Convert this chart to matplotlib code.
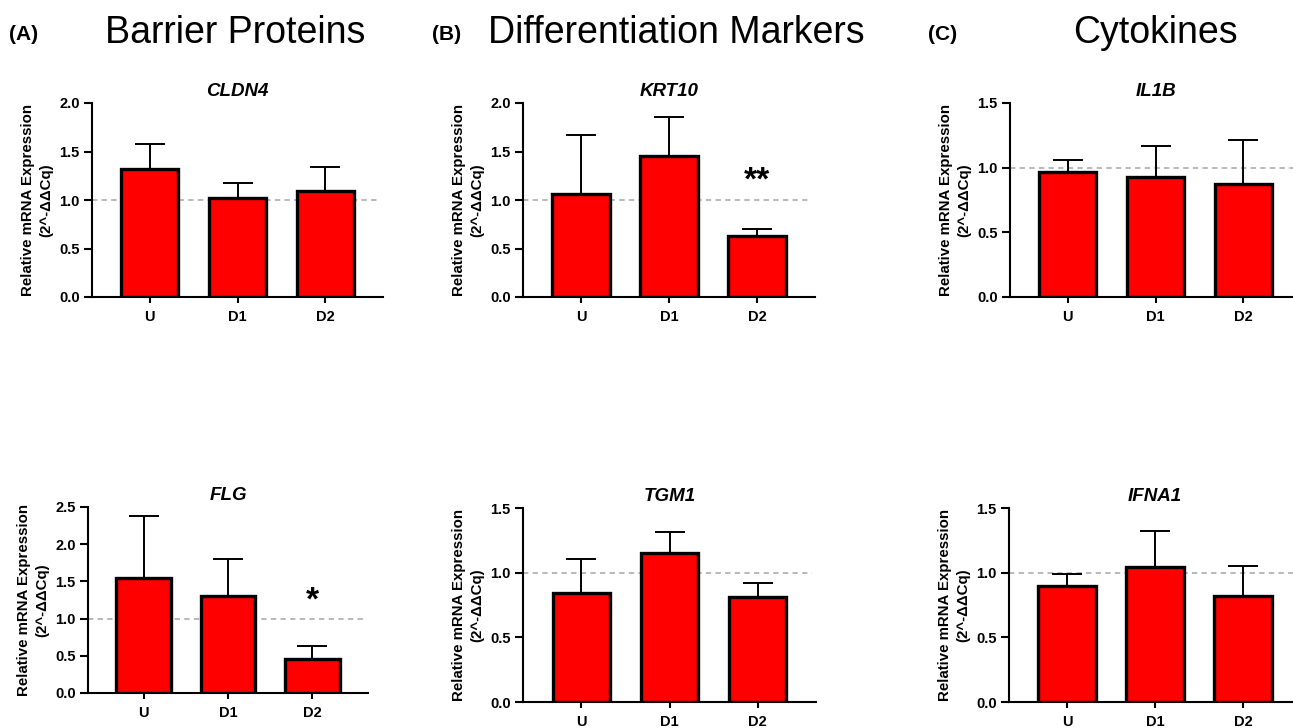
import matplotlib
matplotlib.use("Agg")
import matplotlib.pyplot as plt
from matplotlib.ticker import MultipleLocator, FormatStrFormatter

plt.rcParams["font.family"] = ["Liberation Sans", "DejaVu Sans"]

groups = ["U", "D1", "D2"]

# means and upper error (SD)
cldn4_mean = [1.32, 1.02, 1.09]
cldn4_err = [0.26, 0.16, 0.25]
krt10_mean = [1.06, 1.455, 0.63]
krt10_err = [0.615, 0.405, 0.07]
il1b_mean = [0.967, 0.926, 0.871]
il1b_err = [0.091, 0.238, 0.342]
flg_mean = [1.54, 1.31, 0.457]
flg_err = [0.835, 0.49, 0.17]
tgm1_mean = [0.845, 1.152, 0.81]
tgm1_err = [0.261, 0.16, 0.11]
ifna1_mean = [0.90, 1.046, 0.82]
ifna1_err = [0.09, 0.276, 0.234]

genes = ["CLDN4", "KRT10", "IL1B", "FLG", "TGM1", "IFNA1"]
ymax = [2.0, 2.0, 1.5, 2.5, 1.5, 1.5]
stars = {"KRT10": (2, "**", 1.11), "FLG": (2, "*", 1.115)}

section_titles = ["Barrier Proteins", "Differentiation Markers", "Cytokines"]
section_letters = ["(A)", "(B)", "(C)"]

W, H = 1293, 728
fig = plt.figure(figsize=(W / 100, H / 100), dpi=100)

# axes boxes in pixels: left, right, top, bottom
boxes = [
    (92, 383, 103, 297),
    (523, 815, 103, 297),
    (1010, 1301, 103, 297),
    (88, 368, 507, 693),
    (523, 816, 508, 702),
    (1009, 1301, 508, 702),
]

data = {
    "CLDN4": (cldn4_mean, cldn4_err),
    "KRT10": (krt10_mean, krt10_err),
    "IL1B": (il1b_mean, il1b_err),
    "FLG": (flg_mean, flg_err),
    "TGM1": (tgm1_mean, tgm1_err),
    "IFNA1": (ifna1_mean, ifna1_err),
}

x = range(len(groups))
for gene, top, (l, r, t, b) in zip(genes, ymax, boxes):
    ax = fig.add_axes([l / W, 1 - b / H, (r - l) / W, (b - t) / H])
    mean, err = data[gene]
    ax.axhline(1.0, xmin=0, xmax=0.985, color="#a6a6a6", lw=1.1,
               dashes=(3.5, 2.8), zorder=1)
    ax.errorbar(x, mean, yerr=[[0] * len(err), err], fmt="none",
                ecolor="black", elinewidth=1.4, capsize=10.5,
                capthick=1.4, zorder=2)
    ax.bar(x, mean, width=0.65, color="#ff0000", edgecolor="black",
           linewidth=2.4, zorder=3)
    if gene in stars:
        i, s, y = stars[gene]
        ax.text(i, y, s, ha="center", va="baseline", fontsize=24,
                fontweight="bold", zorder=4)

    ax.set_xlim(-0.66, 2.66)
    ax.set_ylim(0, top)
    ax.yaxis.set_major_locator(MultipleLocator(0.5))
    ax.yaxis.set_major_formatter(FormatStrFormatter("%.1f"))
    ax.set_xticks(list(x))
    ax.set_xticklabels(groups)
    for sp in ["top", "right"]:
        ax.spines[sp].set_visible(False)
    for sp in ["left", "bottom"]:
        ax.spines[sp].set_linewidth(1.5)
    ax.tick_params(axis="y", length=5.8, width=1.5, pad=3, labelsize=10.5)
    ax.tick_params(axis="x", length=4.3, width=1.5, pad=5, labelsize=10.5)
    for lab in ax.get_xticklabels() + ax.get_yticklabels():
        lab.set_fontweight("bold")

    ax.set_title(gene, fontsize=13.5, fontweight="bold", style="italic", pad=5)
    ax.set_ylabel("Relative mRNA Expression\n(2^-ΔΔCq)", fontsize=10.8,
                  fontweight="bold", va="center", linespacing=1.4)
    # label block sits ~55 px left of the y spine
    ax.yaxis.set_label_coords(-55 / (r - l), 0.5)

title_x = [235, 676, 1155]
letter_x = [24, 447, 943]
for tx, lx, title, letter in zip(title_x, letter_x, section_titles, section_letters):
    fig.text(tx / W, 1 - 43 / H, title, ha="center", va="baseline", fontsize=27)
    fig.text(lx / W, 1 - 40 / H, letter, ha="center", va="baseline",
             fontsize=15, fontweight="bold")

fig.savefig("out.png", dpi=100)
